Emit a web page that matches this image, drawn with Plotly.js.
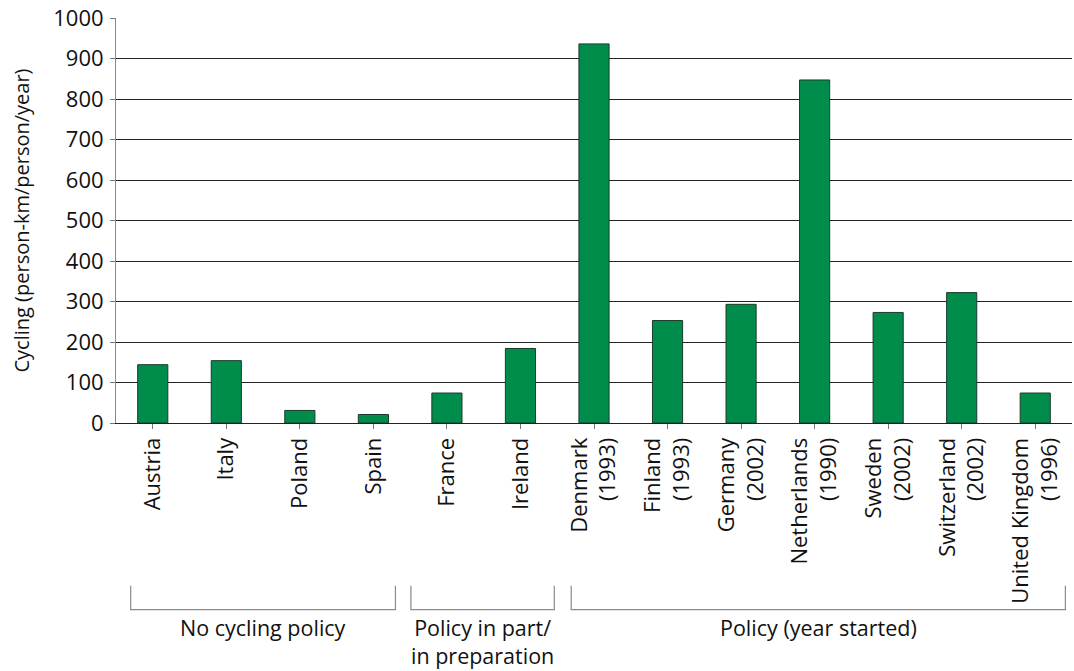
<!DOCTYPE html>
<html>
<head>
<meta charset="utf-8">
<script src="https://cdn.plot.ly/plotly-3.0.1.min.js"></script>
<style>html,body{margin:0;padding:0;background:#fff;}#chart{width:1074px;height:671px;}</style>
</head>
<body>
<div id="chart"></div>
<script>
const countries = ["Austria","Italy","Poland","Spain","France","Ireland","Denmark<br>(1993)","Finland<br>(1993)","Germany<br>(2002)","Netherlands<br>(1990)","Sweden<br>(2002)","Switzerland<br>(2002)","United Kingdom<br>(1996)"];
const cycling = [144,154,31,21,74,184,936,253,293,847,273,322,74];
const yTicks = [0,100,200,300,400,500,600,700,800,900,1000];
const groupLabels = ["No cycling policy","Policy in part/<br>in preparation","Policy (year started)"];
const groupStart = [-0.3,3.51,5.69];
const groupEnd = [3.3,5.46,12.41];

const FONT = "Open Sans, Noto Sans, sans-serif";
const idx = countries.map((_, i) => i);

const shapes = [];
const annotations = [];
for (let g = 0; g < groupLabels.length; g++) {
  shapes.push({
    type: "path", xref: "x", yref: "paper",
    path: "M " + groupStart[g] + " -0.402 L " + groupStart[g] + " -0.461 L " + groupEnd[g] + " -0.461 L " + groupEnd[g] + " -0.402",
    line: {color: "#8a8a8a", width: 1.2}
  });
  annotations.push({
    xref: "x", yref: "paper", x: (groupStart[g] + groupEnd[g]) / 2, y: -0.466,
    yanchor: "top", xanchor: "center", showarrow: false, borderpad: 0,
    text: groupLabels[g], font: {family: FONT, size: 21.5, color: "#111"}
  });
}

const trace = {
  type: "bar", x: idx, y: cycling, width: 0.41,
  marker: {color: "#008C4B", line: {color: "#1d3b2a", width: 1}},
  hoverinfo: "skip"
};

const layout = {
  width: 1074, height: 671,
  margin: {l: 116, r: 2, t: 18, b: 248},
  paper_bgcolor: "#fff", plot_bgcolor: "#fff",
  showlegend: false,
  font: {family: FONT, size: 22, color: "#111"},
  xaxis: {
    tickmode: "array", tickvals: idx, ticktext: countries,
    range: [-0.5, 12.5], tickangle: -90, tickson: "boundaries",
    ticks: "outside", ticklen: 5, tickcolor: "#777",
    showline: true, linecolor: "#222", linewidth: 1,
    showgrid: false, zeroline: false,
    tickfont: {family: FONT, size: 22, color: "#111"}
  },
  yaxis: {
    range: [0, 1000], tickmode: "array", tickvals: yTicks,
    ticks: "outside", ticklen: 5, tickcolor: "#777",
    showline: true, linecolor: "#888", linewidth: 1,
    showgrid: true, gridcolor: "#222", gridwidth: 1,
    zeroline: false, ticklabelstandoff: 2,
    tickfont: {family: FONT, size: 22, color: "#111"},
    title: {text: "Cycling (person-km/person/year)", font: {family: FONT, size: 20, color: "#111"}, standoff: 18}
  },
  shapes: shapes,
  annotations: annotations
};

Plotly.newPlot("chart", [trace], layout, {staticPlot: true, displayModeBar: false});
</script>
</body>
</html>
